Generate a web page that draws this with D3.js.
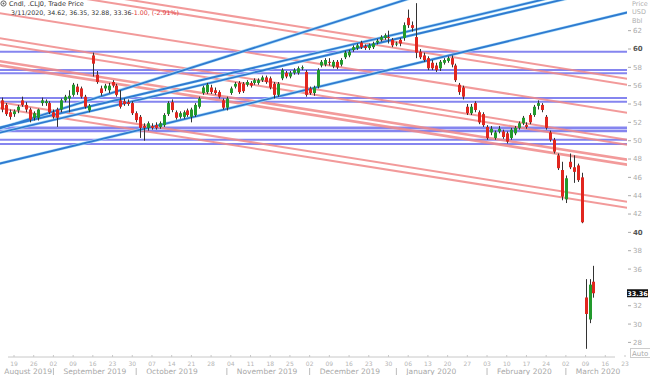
<!DOCTYPE html>
<html>
<head>
<meta charset="utf-8">
<script src="https://cdn.jsdelivr.net/npm/d3@7/dist/d3.min.js"></script>
<style>
  body { margin: 0; background: #fff; }
  svg { display: block; font-family: "DejaVu Sans", Verdana, sans-serif; }
</style>
</head>
<body>
<div id="chart"></div>
<script>
// candles start on this day, one per weekday
var firstCandle = "2019-08-14";

var opens = [54.4,53.9,53.1,52.9,53.3,54.4,53.9,53.4,52.5,52.5,54.1,54.1,54.1,53.1,53.4,53.4,54.4,54.6,55.0,55.9,
  55.7,54.8,53.3,59.3,57.2,55.7,55.7,55.5,56.4,56.0,54.4,54.3,54.2,54.1,53.0,52.6,51.6,51.4,51.6,51.7,
  51.5,51.7,52.9,54.2,53.1,52.6,52.6,53.3,52.6,52.8,53.7,55.2,55.3,55.8,55.5,55.3,54.4,53.6,55.2,55.9,
  56.3,56.2,56.1,56.3,56.3,56.3,56.6,56.9,56.8,56.2,55.0,56.8,57.4,57.0,57.4,57.4,57.9,57.5,55.7,55.2,
  55.9,58.2,58.3,58.6,58.1,58.6,58.3,59.1,59.3,59.9,60.1,60.7,60.3,60.1,60.2,60.7,61.0,61.2,61.3,61.0,
  60.5,61.0,61.2,63.4,62.6,61.3,59.7,59.3,59.0,58.5,58.2,57.9,58.5,58.7,59.0,58.2,56.1,55.8,53.7,53.0,
  54.1,53.1,52.9,51.5,50.9,50.3,51.0,51.0,50.8,50.3,50.8,51.4,51.9,51.7,52.8,52.8,53.8,53.9,52.6,50.9,
  50.1,48.4,46.8,43.6,47.7,47.1,47.3,46.0,32.9,30.5,34.62];
var highs = [54.7,54.1,53.4,53.4,53.9,54.8,54.2,53.6,53.2,53.5,54.7,54.5,54.3,53.4,53.6,54.6,55.0,55.5,56.3,56.2,
  55.9,55.0,54.0,59.6,57.6,56.0,56.2,56.3,56.6,56.2,55.5,54.6,54.5,54.3,53.2,52.8,51.9,52.1,51.9,52.0,
  52.1,53.0,54.3,54.5,53.3,53.2,53.3,53.5,53.6,54.1,54.8,56.0,56.3,56.1,55.8,55.5,54.6,54.8,55.9,56.4,
  56.5,56.4,56.6,56.5,56.8,56.8,57.1,57.1,57.0,56.4,56.4,57.9,57.6,57.6,57.9,58.1,58.2,57.7,55.9,56.0,
  57.9,58.8,59.0,59.0,58.8,58.8,59.0,59.8,59.9,60.4,60.6,60.9,60.5,60.6,60.8,61.1,61.5,61.7,62.0,61.2,
  60.8,61.2,62.9,64.3,63.0,65.0,60.0,59.6,59.2,58.8,58.5,58.8,59.0,59.2,59.3,58.4,56.3,56.0,54.0,54.0,
  54.3,53.3,53.1,51.7,51.6,51.1,51.6,51.2,51.0,51.4,51.6,52.1,52.7,52.0,53.0,53.9,54.4,54.1,52.8,51.1,
  50.3,48.6,47.7,46.2,48.6,48.4,47.5,46.5,34.9,34.9,36.35];
var lows = [53.1,52.7,52.3,52.6,53.0,53.7,53.1,52.0,52.2,52.2,53.8,53.8,52.9,52.4,51.5,53.1,54.2,53.1,54.8,55.0,
  54.6,53.5,53.1,57.0,56.2,54.9,55.4,55.2,55.8,54.8,53.5,53.8,53.8,52.8,52.0,50.3,50.0,51.1,51.2,51.2,
  51.3,51.5,52.7,53.1,52.3,52.4,52.4,52.6,52.0,52.6,53.5,55.0,55.1,55.1,55.0,54.6,53.4,53.3,55.0,55.7,
  55.1,55.2,55.9,55.8,56.1,56.1,56.4,56.2,55.6,54.6,54.8,56.6,56.8,56.8,57.2,57.2,57.7,54.8,55.0,54.9,
  55.7,58.0,58.1,58.2,57.9,57.8,58.1,58.9,59.1,59.7,59.9,60.0,59.9,59.9,60.0,60.5,60.8,61.0,60.6,60.2,
  60.3,60.3,60.9,62.3,61.9,59.0,58.9,58.6,57.7,57.7,57.5,57.6,58.3,58.5,58.0,56.4,55.0,54.5,52.8,52.8,
  53.1,51.8,51.5,50.1,50.6,50.1,50.8,50.2,49.7,50.1,50.6,51.2,51.7,51.3,51.8,52.6,53.4,53.1,51.2,49.9,
  48.6,46.8,43.5,43.2,46.9,45.4,45.5,41.0,27.3,30.1,32.88];
var closes = [53.4,52.9,52.6,53.2,53.7,53.9,53.4,52.3,53.0,53.4,54.4,54.3,53.1,52.6,52.5,54.4,54.8,54.9,56.1,55.3,
  54.8,53.7,53.8,58.4,56.4,55.2,56.0,56.0,56.0,55.0,53.7,54.0,54.0,53.0,52.25,51.4,51.4,51.9,51.4,51.4,
  51.9,52.8,54.1,53.35,52.5,53.0,53.1,52.8,53.4,53.9,54.6,55.8,56.1,55.3,55.2,54.8,53.6,54.6,55.7,56.2,
  55.3,55.4,56.4,56.0,56.6,56.6,56.9,56.4,55.8,55.0,56.2,57.7,57.0,57.4,57.7,57.9,58.0,55.0,55.2,55.8,
  57.7,58.6,58.8,58.5,58.6,58.0,58.8,59.6,59.7,60.2,60.4,60.2,60.1,60.4,60.6,60.9,61.3,61.5,61.2,60.4,
  60.6,60.6,62.6,62.6,62.3,59.6,59.1,58.8,57.9,57.9,57.7,58.6,58.8,59.0,58.3,56.6,55.3,54.8,53.0,53.7,
  53.35,52.0,51.7,50.3,51.3,50.9,51.3,50.4,49.9,51.2,51.4,51.9,52.5,51.5,52.0,53.7,54.1,53.35,51.4,50.1,
  48.8,47.0,43.9,45.9,47.1,46.6,45.7,41.1,31.1,34.3,33.36];

// horizontal support / resistance levels (USD)
var levels = [59.7, 57.7, 57.35, 54.65, 54.25, 51.4, 51.05, 50.1, 49.65];

// trend lines: [start date, start price, end date, end price]
var upLines = [
  ["2019-08-13", 51.28, "2020-03-24", 73.1],
  ["2019-08-13", 51.39, "2020-03-24", 67.6],
  ["2019-08-13", 50.84, "2020-03-24", 67.1],
  ["2019-08-13", 47.46, "2020-03-24", 64.03]
];
var downLines = [
  ["2019-08-13", 66.98, "2020-03-24", 56.07],
  ["2019-08-13", 67.63, "2020-03-24", 56.73],
  ["2019-08-13", 63.93, "2020-03-24", 53.02],
  ["2019-08-13", 61.2, "2020-03-24", 50.08],
  ["2019-08-13", 60.55, "2020-03-24", 49.53],
  ["2019-08-13", 58.69, "2020-03-24", 47.9],
  ["2019-08-13", 58.25, "2020-03-24", 47.35],
  ["2019-08-13", 54.22, "2020-03-24", 43.31],
  ["2019-08-13", 53.57, "2020-03-24", 42.66]
];

var priceTicks = [62, 60, 58, 56, 54, 52, 50, 48, 46, 44, 42, 40, 38, 36, 32, 30, 28];
var boldTicks = [60, 40];
var months = ["August 2019", "September 2019", "October 2019", "November 2019",
  "December 2019", "January 2020", "February 2020", "March 2020"];
var monthStarts = ["2019-08-12", "2019-09-02", "2019-10-01", "2019-11-01",
  "2019-12-02", "2020-01-01", "2020-02-03", "2020-03-02"];
var lastPrice = 33.36;

var width = 650, height = 375;
var plotRight = 627, axisY = 357;

var parse = d3.timeParse("%Y-%m-%d");
var fmt = d3.timeFormat("%Y-%m-%d");

// weekday calendar for the time axis
var days = d3.timeDay.range(parse("2019-08-12"), parse("2020-03-28"))
  .filter(d => d.getDay() != 0 && d.getDay() != 6);
var dayIndex = {};
days.forEach((d, i) => dayIndex[fmt(d)] = i);
var mondays = days.filter(d => d.getDay() == 1 && d >= parse("2019-08-19"));

var x = d3.scaleLinear()
  .domain([dayIndex["2019-08-19"], dayIndex["2020-03-23"]])
  .range([14, 625]);
var y = d3.scaleLinear()
  .domain([60, 28])
  .range([49, 342.4]);

var start = dayIndex[firstCandle];
var candles = opens.map((o, i) => ({i: start + i, o: o, h: highs[i], l: lows[i], c: closes[i]}));

var svg = d3.select("#chart").append("svg")
  .attr("width", width)
  .attr("height", height);

svg.append("defs").append("clipPath").attr("id", "plot")
  .append("rect").attr("x", 0).attr("y", 0).attr("width", plotRight).attr("height", axisY);

var plot = svg.append("g").attr("clip-path", "url(#plot)");

// horizontal levels
plot.selectAll(".level")
  .data(levels)
  .enter().append("line")
  .attr("class", "level")
  .attr("x1", 0).attr("x2", plotRight)
  .attr("y1", d => y(d)).attr("y2", d => y(d))
  .style("stroke", "#8585ef")
  .style("stroke-width", (d, i) => (i == 5 || i == 6) ? 2.6 : 2);

function trendPath(l) {
  return d3.line()([[x(dayIndex[l[0]]), y(l[1])], [x(dayIndex[l[2]]), y(l[3])]]);
}

plot.selectAll(".down")
  .data(downLines)
  .enter().append("path")
  .attr("class", "down")
  .attr("d", trendPath)
  .style("fill", "none")
  .style("stroke", "#f08888")
  .style("stroke-opacity", 0.85)
  .style("stroke-width", (d, i) => (i == 5 || i == 6) ? 2.6 : 2);

// blue up-trend lines with a pale halo
plot.selectAll(".upHalo")
  .data(upLines)
  .enter().append("path")
  .attr("d", trendPath)
  .style("fill", "none")
  .style("stroke", "#a8dcf8")
  .style("stroke-width", 3);
plot.selectAll(".up")
  .data(upLines)
  .enter().append("path")
  .attr("class", "up")
  .attr("d", trendPath)
  .style("fill", "none")
  .style("stroke", "#2f7ad0")
  .style("stroke-width", 1.8);

// candles
var cg = plot.selectAll(".candle")
  .data(candles)
  .enter().append("g")
  .attr("class", "candle");
cg.append("line")
  .attr("x1", d => Math.round(x(d.i)) + 0.5).attr("x2", d => Math.round(x(d.i)) + 0.5)
  .attr("y1", d => y(d.h)).attr("y2", d => y(d.l))
  .style("stroke", "#333")
  .style("stroke-width", 1);
cg.append("rect")
  .attr("x", d => Math.round(x(d.i)) - 1)
  .attr("width", 3)
  .attr("y", d => y(Math.max(d.o, d.c)))
  .attr("height", d => Math.max(1, Math.abs(y(d.o) - y(d.c))))
  .style("fill", d => d.c >= d.o ? "#229a2c" : "#e1261f");

// right price axis
var yAxis = svg.append("g");
yAxis.selectAll("line")
  .data(priceTicks)
  .enter().append("line")
  .attr("x1", 628).attr("x2", 631)
  .attr("y1", d => y(d)).attr("y2", d => y(d))
  .style("stroke", "#aaa");
yAxis.selectAll("text")
  .data(priceTicks)
  .enter().append("text")
  .attr("x", 633)
  .attr("y", d => y(d))
  .attr("dy", "0.35em")
  .style("font-size", "7px")
  .style("font-weight", d => boldTicks.includes(d) ? "bold" : "normal")
  .style("fill", d => boldTicks.includes(d) ? "#555" : "#aaa")
  .text(d => d);

["Price", "USD", "Bbl"].forEach((t, i) => {
  svg.append("text")
    .attr("x", 632).attr("y", 5.5 + i * 8.5)
    .style("font-size", "6.5px").style("fill", "#b0b0b0")
    .text(t);
});

// last price flag
svg.append("rect")
  .attr("x", 627).attr("y", y(lastPrice) - 4)
  .attr("width", 21).attr("height", 8)
  .style("fill", "#111");
svg.append("text")
  .attr("x", 637.5).attr("y", y(lastPrice))
  .attr("dy", "0.35em")
  .attr("text-anchor", "middle")
  .style("font-size", "6.5px").style("font-weight", "bold").style("fill", "#fff")
  .text(lastPrice.toFixed(2));

// bottom time axis
var xAxis = svg.append("g").attr("transform", "translate(0," + axisY + ")");
xAxis.append("line")
  .attr("x1", 8).attr("x2", 615)
  .style("stroke", "#c8c8c8");
xAxis.selectAll(".tk")
  .data(mondays)
  .enter().append("line")
  .attr("x1", d => x(dayIndex[fmt(d)])).attr("x2", d => x(dayIndex[fmt(d)]))
  .attr("y1", -2).attr("y2", 0)
  .style("stroke", "#c8c8c8");
xAxis.selectAll(".tl")
  .data(mondays)
  .enter().append("text")
  .attr("x", d => x(dayIndex[fmt(d)]))
  .attr("y", 9)
  .attr("text-anchor", "middle")
  .style("font-size", "6px").style("fill", "#b5b5b5")
  .text(d3.timeFormat("%d"));
xAxis.selectAll(".sep")
  .data(monthStarts.slice(1))
  .enter().append("line")
  .attr("x1", d => x(dayIndex[d])).attr("x2", d => x(dayIndex[d]))
  .attr("y1", 11).attr("y2", 18)
  .style("stroke", "#bbb");
xAxis.selectAll(".ml")
  .data(months)
  .enter().append("text")
  .attr("x", (d, i) => Math.max(2, x(dayIndex[monthStarts[i]]) + 10))
  .attr("y", 16.5)
  .style("font-size", "7.5px").style("fill", "#a8a8a8")
  .text(d => d);

// Auto button
svg.append("rect")
  .attr("x", 630.5).attr("y", 348.5).attr("width", 22).attr("height", 9)
  .style("fill", "#fff").style("stroke", "#ccc");
svg.append("text")
  .attr("x", 632).attr("y", 355.5)
  .style("font-size", "7px").style("fill", "#aaa")
  .text("Auto");

// header
svg.append("circle")
  .attr("cx", 3.5).attr("cy", 3.5).attr("r", 2.6)
  .style("fill", "#fff").style("stroke", "#666");
svg.append("circle")
  .attr("cx", 3.5).attr("cy", 3.5).attr("r", 1)
  .style("fill", "#666");
svg.append("text")
  .attr("x", 9).attr("y", 6)
  .style("font-size", "6.5px").style("fill", "#333")
  .text("Cndl, .CLJ0, Trade Price");
var info = svg.append("text")
  .attr("x", 11).attr("y", 15)
  .style("font-size", "6.3px").style("fill", "#333");
info.append("tspan").text("3/11/2020, 34.62, 36.35, 32.88, 33.36");
info.append("tspan").style("fill", "#e03a3a").text("-1.00, (-2.91%)");
</script>
</body>
</html>
